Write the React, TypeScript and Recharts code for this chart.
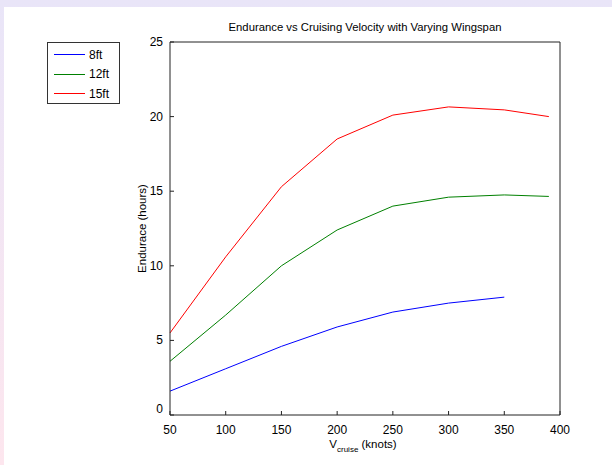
import React from 'react';
import { LineChart, Line, XAxis, YAxis, Legend } from 'recharts';

const velocity = [50, 100, 150, 200, 250, 300, 350, 390];
const endurance8ft = [1.6, 3.1, 4.6, 5.9, 6.9, 7.5, 7.9];
const endurance12ft = [3.6, 6.7, 10.0, 12.4, 14.0, 14.6, 14.75, 14.65];
const endurance15ft = [5.5, 10.6, 15.3, 18.5, 20.1, 20.65, 20.45, 20.0];
const xTicks = [50, 100, 150, 200, 250, 300, 350, 400];
const yTicks = [0, 5, 10, 15, 20, 25];
const seriesNames = ['8ft', '12ft', '15ft'];
const seriesColors = ['#0000ff', '#008000', '#ff0000'];

const toPoints = (vals: number[]) => vals.map((e, i) => ({ v: velocity[i], e }));
const seriesData = [toPoints(endurance8ft), toPoints(endurance12ft), toPoints(endurance15ft)];

const FONT = '"Liberation Sans", Arial, Helvetica, sans-serif';

const LeftTick = (props: any) => {
  const { x, y, payload } = props;
  const shift = payload.value === 0 ? -6 : 0;
  return (
    <text x={x} y={y + shift} dy={4} textAnchor="end" fontSize={12} fill="#000" fontFamily={FONT}>
      {payload.value}
    </text>
  );
};

const Empty = () => <g />;

const LegendBox = () => (
  <div
    style={{
      width: 73,
      height: 62,
      border: '1px solid #333',
      background: '#fff',
      fontFamily: FONT,
      fontSize: 12,
      boxSizing: 'border-box',
      paddingTop: 2,
    }}
  >
    {seriesNames.map((n, i) => (
      <div key={n} style={{ display: 'flex', alignItems: 'center', height: 19.5 }}>
        <div style={{ width: 31, height: 1, background: seriesColors[i], marginLeft: 6, marginRight: 4 }} />
        <span>{n}</span>
      </div>
    ))}
  </div>
);

export default function App() {
  return (
    <div
      style={{
        position: 'absolute',
        left: 0,
        top: 0,
        width: 612,
        height: 465,
        background: 'linear-gradient(#e9e5f8, #fde6ee)',
        overflow: 'hidden',
      }}
    >
      <div style={{ position: 'absolute', left: 4, top: 7, width: 608, height: 458, background: '#fff' }} />
      <div style={{ position: 'absolute', left: 0, top: 0 }}>
        <LineChart width={612} height={465} margin={{ top: 0, right: 0, bottom: 0, left: 0 }}>
          <XAxis
            xAxisId="bottom"
            dataKey="v"
            type="number"
            domain={[50, 400]}
            ticks={xTicks}
            orientation="bottom"
            height={50}
            tickSize={-4}
            tickMargin={14}
            stroke="#222"
            tick={{ fontSize: 12, fill: '#000', fontFamily: FONT }}
            allowDuplicatedCategory={false}
            label={{
              content: (p: any) => {
                const vb = p.viewBox;
                return (
                  <text x={vb.x + vb.width / 2 - 2} y={vb.y + 33} textAnchor="middle" fontSize={11.5} fontFamily={FONT} fill="#000">
                    <tspan>V</tspan>
                    <tspan dy={4} fontSize={8}>cruise</tspan>
                    <tspan dy={-4}> (knots)</tspan>
                  </text>
                );
              },
            }}
          />
          <XAxis
            xAxisId="top"
            dataKey="v"
            type="number"
            domain={[50, 400]}
            ticks={xTicks}
            orientation="top"
            height={42}
            tickSize={-4}
            stroke="#222"
            tick={Empty}
            label={{
              content: (p: any) => {
                const vb = p.viewBox;
                return (
                  <text x={vb.x + vb.width / 2} y={31} textAnchor="middle" fontSize={11.3} fontFamily={FONT} fill="#000">
                    Endurance vs Cruising Velocity with Varying Wingspan
                  </text>
                );
              },
            }}
          />
          <YAxis
            yAxisId="left"
            type="number"
            domain={[0, 25]}
            ticks={yTicks}
            orientation="left"
            width={170}
            tickSize={-4}
            tickMargin={11}
            stroke="#222"
            tick={<LeftTick />}
            label={{
              content: (p: any) => {
                const vb = p.viewBox;
                const cx = vb.x + vb.width - 27;
                const cy = vb.y + vb.height / 2;
                return (
                  <text
                    x={cx}
                    y={cy}
                    textAnchor="middle"
                    dominantBaseline="middle"
                    transform={`rotate(-90 ${cx} ${cy})`}
                    fontSize={11.5}
                    fontFamily={FONT}
                    fill="#000"
                  >
                    Endurace (hours)
                  </text>
                );
              },
            }}
          />
          <YAxis
            yAxisId="right"
            type="number"
            domain={[0, 25]}
            ticks={yTicks}
            orientation="right"
            width={52}
            tickSize={-4}
            stroke="#222"
            tick={Empty}
          />
          <Legend
            layout="vertical"
            align="center"
            verticalAlign="middle"
            content={<LegendBox />}
            wrapperStyle={{ position: 'absolute', left: 47, top: 42, width: 73, height: 62 }}
          />
          {seriesData.map((d, i) => (
            <Line
              key={seriesNames[i]}
              name={seriesNames[i]}
              data={d}
              dataKey="e"
              xAxisId="bottom"
              yAxisId="left"
              stroke={seriesColors[i]}
              strokeWidth={1}
              dot={false}
              activeDot={false}
              isAnimationActive={false}
              type="linear"
            />
          ))}
        </LineChart>
      </div>
    </div>
  );
}
